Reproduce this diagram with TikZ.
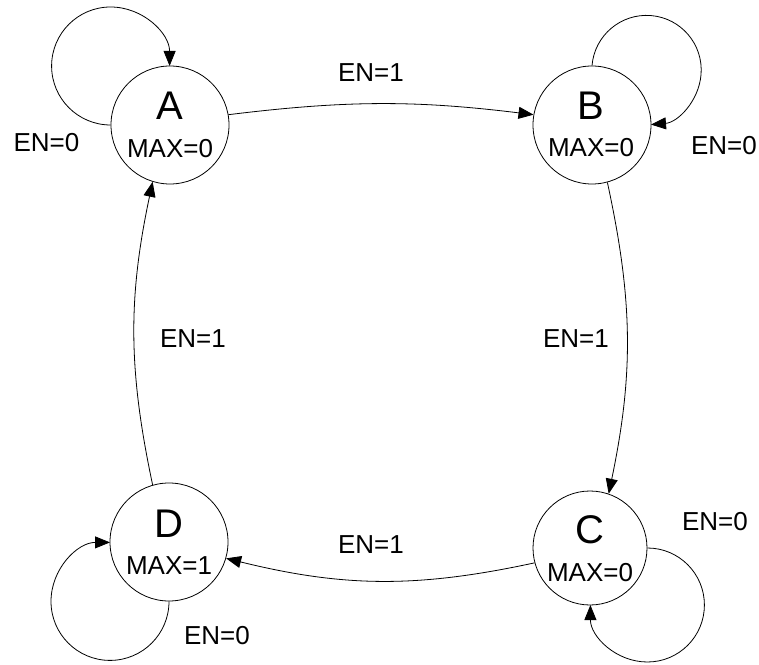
\documentclass[tikz,border=0pt]{standalone}
\usepackage{fontspec}
\setmainfont{Liberation Sans}
\usetikzlibrary{arrows.meta}
\begin{document}
\begin{tikzpicture}[x=1pt,y=1pt,
  state/.style={circle,draw,line width=0.8pt,inner sep=0pt,minimum size=118pt},
  letter/.style={anchor=base,inner sep=0pt,font=\fontsize{40}{40}\selectfont},
  sub/.style={anchor=base,inner sep=0pt,font=\fontsize{26}{26}\selectfont},
  lab/.style={anchor=base,inner sep=0pt,font=\fontsize{26}{26}\selectfont},
  edge/.style={line width=0.8pt,-{Triangle[length=15pt,width=12pt]}}]
\useasboundingbox (0,0) rectangle (759,664);
% states
\node[state] (A) at (170,539) {};
\node[state] (B) at (592,539) {};
\node[state,minimum size=114pt] (C) at (590,116) {};
\node[state] (D) at (169,122) {};
% state texts
\node[letter] (Al) at (170,544) {A};
\node[sub] (Am) at (170,506) {MAX=0};
\node[letter] (Bl) at (591,544) {B};
\node[sub] (Bm) at (591,507) {MAX=0};
\node[letter] (Cl) at (590,121) {C};
\node[sub] (Cm) at (590,83) {MAX=0};
\node[letter] (Dl) at (169,127) {D};
\node[sub] (Dm) at (169,90) {MAX=1};
% transitions between states
\draw[edge] (A.10) to[bend left=7] (B.170);
\draw[edge] (B.285) to[bend left=12] (C.71);
\draw[edge] (C.195) to[bend left=13] (D.344);
\draw[edge] (D.106) to[bend left=12] (A.253);
% self loops
\draw[edge] (A.west) arc[start angle=270,end angle=0,radius=59];
\draw[edge] (B.north) arc[start angle=175.3,end angle=-85.3,radius=54.7];
\draw[edge] (C.east) arc[start angle=90,end angle=-180,radius=57];
\draw[edge] (D.south) arc[start angle=0,end angle=-270,radius=59];
% labels
\node[lab] (lab1) at (371,582) {EN=1};
\node[lab] (lab2) at (576,316) {EN=1};
\node[lab] (lab3) at (371,111) {EN=1};
\node[lab] (lab4) at (193,316) {EN=1};
\node[lab] (labA) at (46.5,512) {EN=0};
\node[lab] (labB) at (724,509) {EN=0};
\node[lab] (labC) at (715,134) {EN=0};
\node[lab] (labD) at (217,20) {EN=0};
\end{tikzpicture}
\end{document}
